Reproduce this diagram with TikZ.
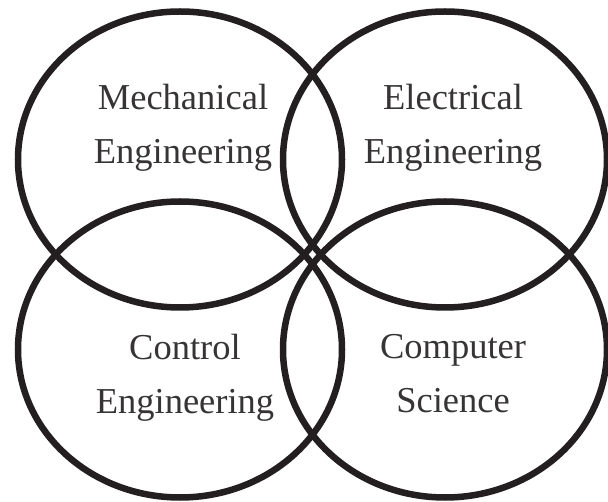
\documentclass[tikz,border=0pt]{standalone}
\usepackage{fontspec}
\setmainfont{Liberation Serif}
\usetikzlibrary{shapes.geometric}
\definecolor{inkline}{RGB}{35,31,32}
\definecolor{inktext}{RGB}{55,52,53}

\begin{document}
\begin{tikzpicture}[
    x=1pt, y=-1pt,
    field/.style={ellipse, draw=inkline, line width=6.5pt, minimum width=324pt, minimum height=296pt, inner sep=0pt},
    caption/.style={align=center, anchor=north, inner sep=0pt, text=inktext, font=\fontsize{36.5}{54}\selectfont}
    ]

    % Rahmen
    \useasboundingbox (0,0) rectangle (608,502);

    % Kreise
    \node[field] (Mechanical) at (180,159.5) {};
    \node[field] (Electrical) at (445,159.5) {};
    \node[field] (Control) at (180,349.5) {};
    \node[field] (Computer) at (445,349.5) {};

    % Beschriftungen
    \node[caption] (MechanicalText) at (183,84) {Mechanical\\Engineering};
    \node[caption] (ElectricalText) at (453,84) {Electrical\\Engineering};
    \node[caption] (ControlText) at (185,334) {Control\\Engineering};
    \node[caption] (ComputerText) at (453,334) {Computer\\Science};

\end{tikzpicture}
\end{document}
